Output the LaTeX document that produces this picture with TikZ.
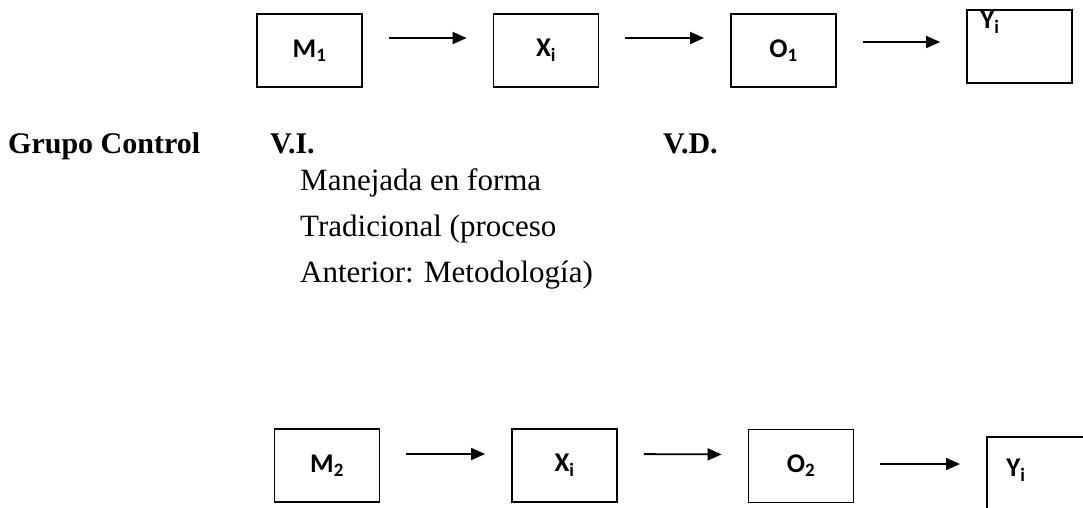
\documentclass[tikz,border=0pt]{standalone}
\usepackage{fontspec}
\setmainfont{Liberation Serif}
\newfontfamily\calibri{Carlito}
\usetikzlibrary{arrows.meta}
\begin{document}
\begin{tikzpicture}[x=1pt,y=-1pt,
  box/.style={draw, line width=1.8pt, minimum width=105pt, minimum height=73pt, inner sep=0pt, font=\calibri\bfseries\fontsize{27}{32}\selectfont},
  lbl/.style={inner sep=0pt, font=\calibri\bfseries\fontsize{27}{32}\selectfont},
  conn/.style={line width=1.8pt, -{Triangle[length=14pt,width=12pt]}, shorten <=26pt, shorten >=26pt},
  txt/.style={anchor=base west, inner sep=0pt, font=\fontsize{31}{36}\selectfont},
  btxt/.style={anchor=base west, inner sep=0pt, font=\bfseries\fontsize{30}{36}\selectfont}]
\useasboundingbox (0,0) rectangle (1083,508);
\clip (0,0) rectangle (1083,508);
\fill[white] (0,0) rectangle (1083,508);

% top row
\node[box] (M1) at (309.5,50.5) {M\textsubscript{1}};
\node[box] (X1) at (546,50.5) {X\textsubscript{i}};
\node[box] (O1) at (783.5,50.5) {O\textsubscript{1}};
\node[box] (Y1) at (1019.5,46.5) {};
\node[lbl] (Y1t) at (990,22) {Y\textsubscript{i}};
\draw[conn] ([yshift=12.5pt]M1.east) -- ([yshift=12.5pt]X1.west);
\draw[conn] ([yshift=12.5pt]X1.east) -- ([yshift=12.5pt]O1.west);
\draw[conn] ([yshift=8.5pt]O1.east) -- ([yshift=8.5pt]O1.east -| Y1.west);

% texts
\node[btxt] (gc) at (8,153) {Grupo Control};
\node[btxt] (vi) at (270,153) {V.I.};
\node[btxt] (vd) at (663,153) {V.D.};
\node[txt] (l1) at (300,190) {Manejada en forma};
\node[txt] (l2) at (300,236) {Tradicional (proceso};
\node[txt] (l3) at (300,282) {Anterior: Metodología)};

% bottom row
\node[box] (M2) at (327,465.5) {M\textsubscript{2}};
\node[box] (X2) at (564.5,465.5) {X\textsubscript{i}};
\node[box] (O2) at (801,466) {O\textsubscript{2}};
\node[box, anchor=north west, minimum width=140pt, minimum height=110pt] (Y2) at (986,436) {};
\node[lbl] (Y2t) at (1016,470) {Y\textsubscript{i}};
\draw[conn] ([yshift=11.5pt]M2.east) -- ([yshift=11.5pt]X2.west);
\draw[conn] ([yshift=11.5pt]X2.east) -- ([yshift=11.5pt]O2.west);
\draw[conn] ([yshift=2pt]O2.east) -- ([yshift=2pt]O2.east -| Y2.west);
\end{tikzpicture}
\end{document}
